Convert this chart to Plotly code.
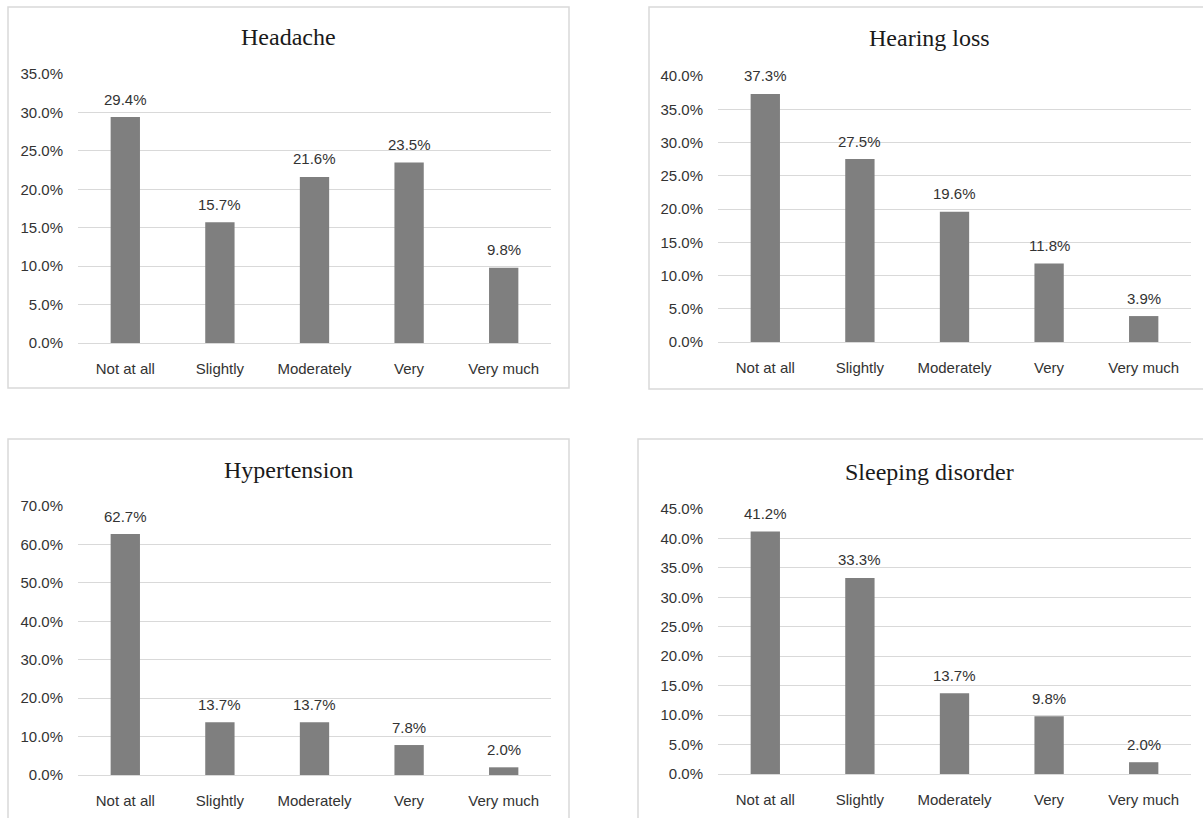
import plotly.graph_objects as go

categories = ["Not at all", "Slightly", "Moderately", "Very", "Very much"]

headache = [0.294, 0.157, 0.216, 0.235, 0.098]
hearing_loss = [0.373, 0.275, 0.196, 0.118, 0.039]
hypertension = [0.627, 0.137, 0.137, 0.078, 0.020]
sleeping_disorder = [0.412, 0.333, 0.137, 0.098, 0.020]

titles = ["Headache", "Hearing loss", "Hypertension", "Sleeping disorder"]
y_max = [0.35, 0.40, 0.70, 0.45]
y_step = [0.05, 0.05, 0.10, 0.05]

W, H = 1203, 818

def px_x(v):
    return v / W

def px_y(v):
    return 1 - v / H

panels = [
    dict(x0=78, x1=551, ytop=74, ybot=343, box=(8, 7, 569, 388), title_y=37),
    dict(x0=718, x1=1191, ytop=76, ybot=342, box=(649, 7, 1210, 389), title_y=38),
    dict(x0=78, x1=551, ytop=506, ybot=775, box=(8, 439, 569, 830), title_y=470),
    dict(x0=718, x1=1191, ytop=509, ybot=774, box=(638, 439, 1220, 830), title_y=472),
]

series = [headache, hearing_loss, hypertension, sleeping_disorder]

fig = go.Figure()
annotations = []
shapes = []
label_font = dict(family="Liberation Sans, Arial, sans-serif", size=15, color="#333333")

for i, (vals, p) in enumerate(zip(series, panels)):
    n = "" if i == 0 else str(i + 1)
    xa = "x" + n
    ya = "y" + n
    fig.add_trace(go.Bar(
        x=categories, y=vals, marker=dict(color="#7f7f7f", line=dict(width=0)),
        xaxis=xa, yaxis=ya, showlegend=False, hoverinfo="skip",
    ))
    for c, v in zip(categories, vals):
        annotations.append(dict(
            x=c, y=v, xref=xa, yref=ya, text=f"{v*100:.1f}%", showarrow=False,
            yanchor="middle", xanchor="center", yshift=18, font=label_font,
        ))
    fig.layout["xaxis" + n] = dict(
        domain=[px_x(p["x0"]), px_x(p["x1"])], anchor=ya, automargin=False,
        showgrid=False, showline=True, linecolor="#d9d9d9", linewidth=1,
        ticks="", tickfont=label_font, ticklabelstandoff=12, fixedrange=True,
    )
    fig.layout["yaxis" + n] = dict(
        domain=[px_y(p["ybot"]), px_y(p["ytop"])], anchor=xa, automargin=False,
        range=[0, y_max[i]], dtick=y_step[i], tick0=0, tickformat=".1%",
        showgrid=True, gridcolor="#d9d9d9", gridwidth=1, zeroline=False,
        showline=False, ticks="", tickfont=label_font, ticklabelstandoff=14,
        fixedrange=True,
    )
    bx0, by0, bx1, by1 = p["box"]
    shapes.append(dict(
        type="rect", xref="paper", yref="paper",
        x0=px_x(bx0), x1=px_x(bx1), y0=px_y(by1), y1=px_y(by0),
        line=dict(color="#d9d9d9", width=1.5), fillcolor="rgba(0,0,0,0)", layer="below",
    ))
    annotations.append(dict(
        x=px_x((bx0 + bx1) / 2), y=px_y(p["title_y"]), xref="paper", yref="paper",
        text=titles[i], showarrow=False, xanchor="center", yanchor="middle",
        font=dict(family="Liberation Serif, Times New Roman, serif", size=24, color="#1a1a1a"),
    ))

fig.update_layout(
    width=W, height=H, margin=dict(l=0, r=0, t=0, b=0, autoexpand=False),
    paper_bgcolor="white", plot_bgcolor="white",
    bargap=0.69, annotations=annotations, shapes=shapes,
)

fig.write_html("out.html", config={"displayModeBar": False})
